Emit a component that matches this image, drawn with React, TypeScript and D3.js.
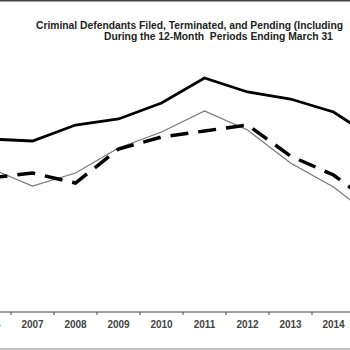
import React, { useEffect, useRef } from "react";
import * as d3 from "d3";

// fiscal years (12-month periods ending March 31); 2006 and 2015 sit just outside the crop
const years = ["2006", "2007", "2008", "2009", "2010", "2011", "2012", "2013", "2014", "2015"];
const filed = [94600, 94200, 97400, 98600, 101800, 106800, 104000, 102600, 100000, 94400];
const terminated = [88800, 85200, 87800, 92800, 96000, 100200, 96400, 89800, 85000, 78400];
const pending = [86800, 87800, 85800, 92600, 95000, 96200, 97400, 91200, 87400, 81000];
const titleLines = [
  "Criminal Defendants Filed, Terminated, and Pending (Including",
  "During the 12-Month  Periods Ending March 31",
];

const W = 350;
const H = 350;

export default function App() {
  const svgRef = useRef<SVGSVGElement>(null);

  useEffect(() => {
    const svg = d3.select(svgRef.current);
    svg.selectAll("*").remove();

    const axisY = 312;

    // the source chart is cropped: bands run past both edges
    const x = d3.scaleBand().domain(years).range([-32, -32 + 43 * years.length]).padding(0);
    const y = d3.scaleLinear().domain([60000, 110000]).range([axisY, axisY - 250]);
    const cx = (d: string) => (x(d) as number) + x.bandwidth() / 2;

    svg.append("rect").attr("width", W).attr("height", H).attr("fill", "#fff");

    // frame lines
    svg.append("line").attr("x1", 0).attr("x2", W).attr("y1", 0.5).attr("y2", 0.5)
      .attr("stroke", "#444").attr("stroke-width", 2);
    svg.append("line").attr("x1", 0).attr("x2", W).attr("y1", 349).attr("y2", 349)
      .attr("stroke", "#888").attr("stroke-width", 1);

    // title
    svg.append("text").attr("x", 36).attr("y", 28.5).text(titleLines[0])
      .attr("font-family", "Liberation Sans, Arial, sans-serif").attr("font-weight", "bold")
      .attr("font-size", 10.3).attr("fill", "#222").attr("xml:space", "preserve");
    svg.append("text").attr("x", 104).attr("y", 40).text(titleLines[1])
      .attr("font-family", "Liberation Sans, Arial, sans-serif").attr("font-weight", "bold")
      .attr("font-size", 10.3).attr("fill", "#222").attr("xml:space", "preserve");

    // x axis
    const ax = svg.append("g").attr("transform", `translate(0,${axisY})`);
    ax.append("line").attr("x1", 0).attr("x2", W).attr("stroke", "#444").attr("stroke-width", 1);
    ax.selectAll("line.tick").data(years).enter().append("line").attr("class", "tick")
      .attr("x1", (d) => x(d) as number).attr("x2", (d) => x(d) as number)
      .attr("y1", 0).attr("y2", 3).attr("stroke", "#444");
    ax.selectAll("text").data(years).enter().append("text")
      .attr("x", cx).attr("y", 16).attr("text-anchor", "middle")
      .attr("font-family", "Liberation Sans, Arial, sans-serif").attr("font-weight", "bold")
      .attr("font-size", 10).attr("fill", "#444").text((d) => d);

    const line = (vals: number[]) =>
      d3.line<number>().x((_, i) => cx(years[i])).y((v) => y(v))(vals);

    svg.append("path").attr("d", line(terminated)).attr("fill", "none")
      .attr("stroke", "#777").attr("stroke-width", 1.2);
    svg.append("path").attr("d", line(pending)).attr("fill", "none")
      .attr("stroke", "#000").attr("stroke-width", 3.5).attr("stroke-dasharray", "18,10");
    svg.append("path").attr("d", line(filed)).attr("fill", "none")
      .attr("stroke", "#000").attr("stroke-width", 2.8);
  }, []);

  return (
    <svg ref={svgRef} width={W} height={H}
      style={{ position: "absolute", left: 0, top: 0, display: "block" }} />
  );
}
